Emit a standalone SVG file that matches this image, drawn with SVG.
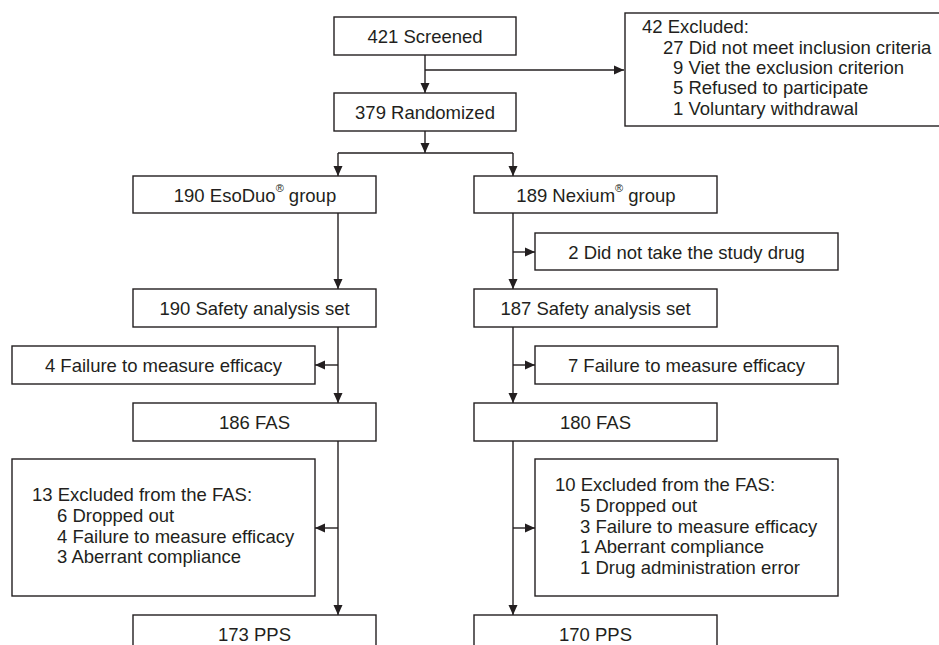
<svg xmlns="http://www.w3.org/2000/svg" width="939" height="645" viewBox="0 0 939 645">
<style>
rect.b{fill:#fff;stroke:#231f20;stroke-width:1.4}
text{font-family:"Liberation Sans",Arial,sans-serif;font-size:18.5px;fill:#231f20}
text.c{text-anchor:middle}
.sup{font-size:11px}
#connectors path{fill:none;stroke:#231f20;stroke-width:1.4}
</style>
<defs>
<marker id="ah" markerUnits="userSpaceOnUse" markerWidth="12" markerHeight="12" viewBox="0 0 12 12" refX="11" refY="6" orient="auto">
<path d="M1,1.5 L11,6 L1,10.5 Z" fill="#231f20"/>
</marker>
</defs>
<rect width="939" height="645" fill="#fff"/>
<g id="connectors">
<path d="M425,55 V93" marker-end="url(#ah)"/>
<path d="M425,70 H624" marker-end="url(#ah)"/>
<path d="M425,131 V153" marker-end="url(#ah)"/>
<path d="M338,153 H513"/>
<path d="M338,153 V176" marker-end="url(#ah)"/>
<path d="M513,153 V176" marker-end="url(#ah)"/>
<path d="M338,213 V289" marker-end="url(#ah)"/>
<path d="M338,327 V403" marker-end="url(#ah)"/>
<path d="M338,365 H315" marker-end="url(#ah)"/>
<path d="M338,441 V615" marker-end="url(#ah)"/>
<path d="M338,528 H315" marker-end="url(#ah)"/>
<path d="M513,213 V289" marker-end="url(#ah)"/>
<path d="M513,252 H535" marker-end="url(#ah)"/>
<path d="M513,327 V403" marker-end="url(#ah)"/>
<path d="M513,365 H535" marker-end="url(#ah)"/>
<path d="M513,441 V615" marker-end="url(#ah)"/>
<path d="M513,528 H535" marker-end="url(#ah)"/>
</g>
<g id="screened"><rect class="b" x="334" y="17" width="182" height="38"/><text class="c" x="425" y="42.5">421 Screened</text></g>
<g id="excluded"><rect class="b" x="625" y="13" width="330" height="113"/>
<text x="642" y="33">42 Excluded:</text>
<text x="663" y="54">27 Did not meet inclusion criteria</text>
<text x="673" y="74">9 Viet the exclusion criterion</text>
<text x="673" y="94">5 Refused to participate</text>
<text x="673" y="115">1 Voluntary withdrawal</text>
</g>
<g id="randomized"><rect class="b" x="334" y="93" width="182" height="38"/><text class="c" x="425" y="118.5">379 Randomized</text></g>
<g id="esoduo"><rect class="b" x="133" y="176" width="243" height="37"/><text class="c" x="255" y="201.5">190 EsoDuo<tspan class="sup" dy="-10">®</tspan><tspan dy="10"> group</tspan></text></g>
<g id="nexium"><rect class="b" x="474" y="176" width="243" height="37"/><text class="c" x="596" y="201.5">189 Nexium<tspan class="sup" dy="-10">®</tspan><tspan dy="10"> group</tspan></text></g>
<g id="notake"><rect class="b" x="535" y="233" width="303" height="37"/><text class="c" x="686.5" y="258.5">2 Did not take the study drug</text></g>
<g id="safetyL"><rect class="b" x="133" y="289" width="243" height="38"/><text class="c" x="254.5" y="314.5">190 Safety analysis set</text></g>
<g id="safetyR"><rect class="b" x="474" y="289" width="243" height="38"/><text class="c" x="595.5" y="314.5">187 Safety analysis set</text></g>
<g id="failL"><rect class="b" x="12" y="346" width="303" height="38"/><text class="c" x="163.5" y="371.5">4 Failure to measure efficacy</text></g>
<g id="failR"><rect class="b" x="535" y="346" width="303" height="38"/><text class="c" x="686.5" y="371.5">7 Failure to measure efficacy</text></g>
<g id="fasL"><rect class="b" x="133" y="403" width="243" height="38"/><text class="c" x="254.5" y="428.5">186 FAS</text></g>
<g id="fasR"><rect class="b" x="474" y="403" width="243" height="38"/><text class="c" x="595.5" y="428.5">180 FAS</text></g>
<g id="exfasL"><rect class="b" x="12" y="459" width="303" height="137"/>
<text x="32" y="501">13 Excluded from the FAS:</text>
<text x="57" y="522">6 Dropped out</text>
<text x="57" y="543">4 Failure to measure efficacy</text>
<text x="57" y="563">3 Aberrant compliance</text>
</g>
<g id="exfasR"><rect class="b" x="535" y="459" width="303" height="137"/>
<text x="555" y="491">10 Excluded from the FAS:</text>
<text x="580" y="512">5 Dropped out</text>
<text x="580" y="533">3 Failure to measure efficacy</text>
<text x="580" y="553">1 Aberrant compliance</text>
<text x="580" y="574">1 Drug administration error</text>
</g>
<g id="ppsL"><rect class="b" x="133" y="615" width="243" height="40"/><text class="c" x="254.5" y="640.5">173 PPS</text></g>
<g id="ppsR"><rect class="b" x="474" y="615" width="243" height="40"/><text class="c" x="595.5" y="640.5">170 PPS</text></g>
</svg>
